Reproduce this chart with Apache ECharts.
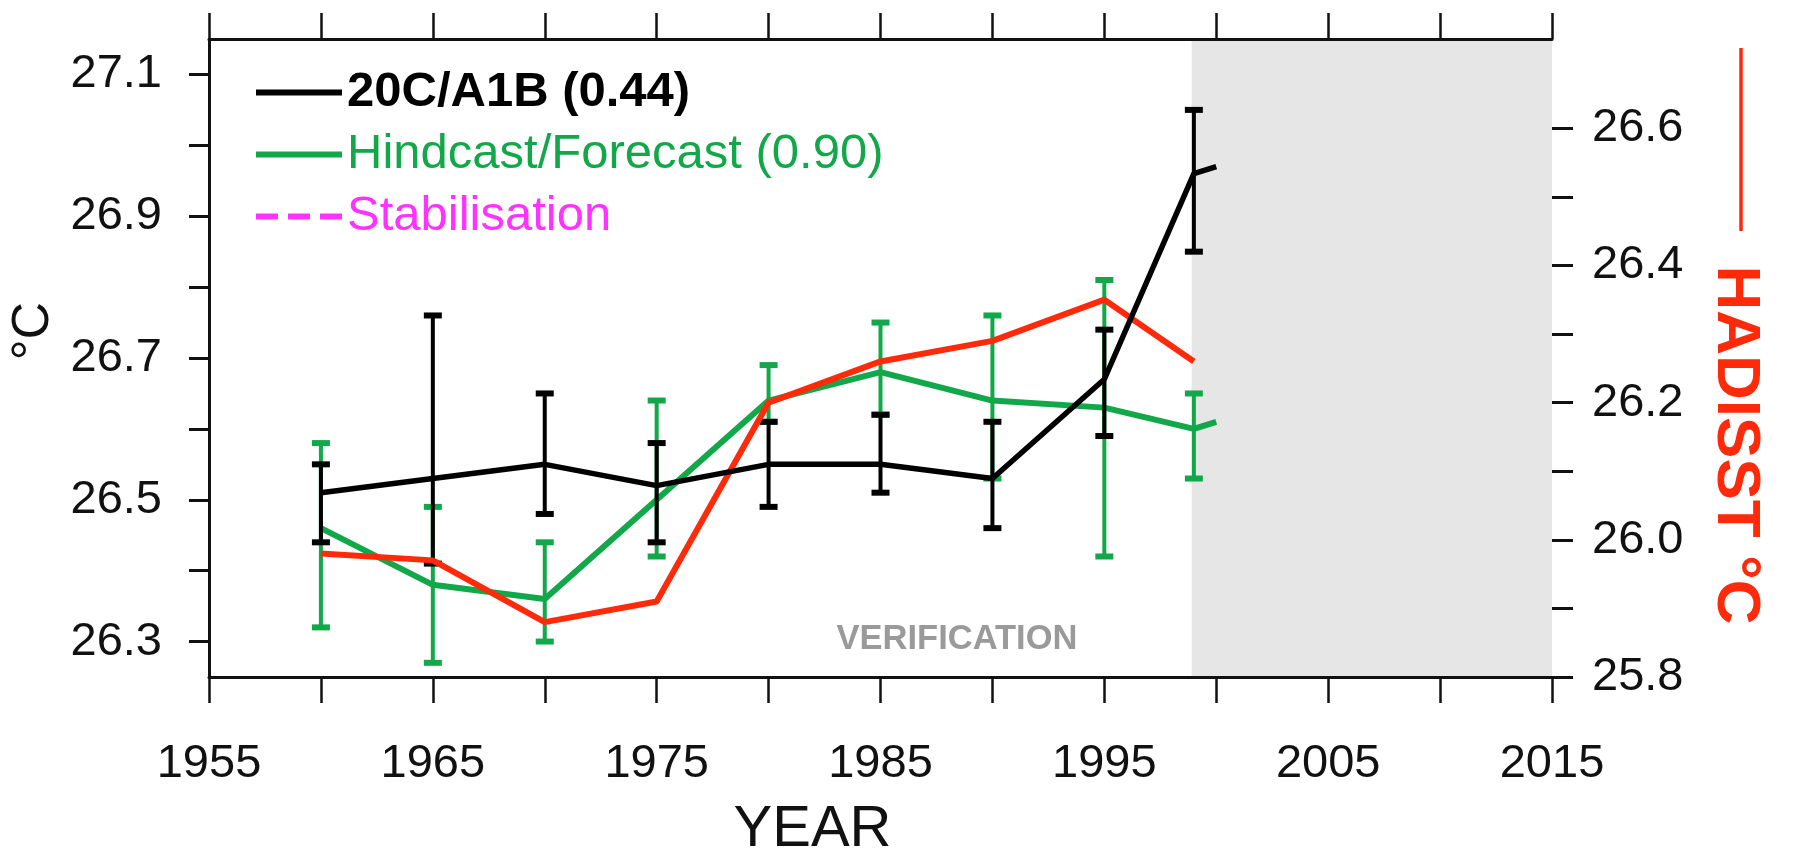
<!DOCTYPE html>
<html>
<head>
<meta charset="utf-8">
<script src="https://cdn.jsdelivr.net/npm/echarts@6/dist/echarts.min.js"></script>
<style>
html, body { margin: 0; background: #fff; }
#chart { width: 1808px; height: 856px; }
</style>
</head>
<body>
<div id="chart"></div>
<script>
// hindcast start years (1999 is the last one, lines run on to 2000)
const years = [1960, 1965, 1970, 1975, 1980, 1985, 1990, 1995, 1999, 2000]

// 20C/A1B ensemble, left axis (degC)
const a1b = [26.51, 26.53, 26.55, 26.52, 26.55, 26.55, 26.53, 26.67, 26.96, 26.97]
const a1bHigh = [26.55, 26.76, 26.65, 26.58, 26.61, 26.62, 26.61, 26.74, 27.05]
const a1bLow = [26.44, 26.41, 26.48, 26.44, 26.49, 26.51, 26.46, 26.59, 26.85]

// hindcast / forecast, left axis (degC)
const hindcast = [26.46, 26.38, 26.36, 26.50, 26.64, 26.68, 26.64, 26.63, 26.60, 26.61]
const hindHigh = [26.58, 26.49, 26.44, 26.64, 26.69, 26.75, 26.76, 26.81, 26.65]
const hindLow = [26.32, 26.27, 26.30, 26.42, 26.61, 26.62, 26.53, 26.42, 26.53]

// HadISST observations, right axis (degC)
const hadisst = [25.98, 25.97, 25.88, 25.91, 26.20, 26.26, 26.29, 26.35, 26.26]

// stabilisation run: in the legend only, nothing plotted
const stabilisation = []

const xLabels = [1955, 1965, 1975, 1985, 1995, 2005, 2015]
const leftTicks = [26.3, 26.4, 26.5, 26.6, 26.7, 26.8, 26.9, 27.0, 27.1]
const leftLabels = [26.3, 26.5, 26.7, 26.9, 27.1]
const rightTicks = [25.8, 25.9, 26.0, 26.1, 26.2, 26.3, 26.4, 26.5, 26.6]
const rightLabels = [25.8, 26.0, 26.2, 26.4, 26.6]

// shaded forecast period
const shade = [[1998.9, 2015]]

const names = ['20C/A1B (0.44)', 'Hindcast/Forecast (0.90)', 'Stabilisation', 'HADISST']
const BLACK = '#000000'
const GREEN = '#12a84a'
const RED = '#ff2a0a'
const MAGENTA = '#ff33ff'

const tickFont = "'Liberation Sans Narrow', 'Liberation Sans', sans-serif"
const plainFont = "'Liberation Sans', Arial, sans-serif"

function pairs(xs, ys) {
  return ys.map((v, i) => [xs[i], v])
}

function bars(xs, lo, hi) {
  return lo.map((v, i) => [xs[i], v, hi[i]])
}

function errorBars(color) {
  return function (params, api) {
    const x = api.value(0)
    const lo = api.coord([x, api.value(1)])
    const hi = api.coord([x, api.value(2)])
    const half = 9
    return {
      type: 'group',
      children: [
        { type: 'line', shape: { x1: lo[0], y1: lo[1], x2: hi[0], y2: hi[1] }, style: { stroke: color, lineWidth: 4 } },
        { type: 'line', shape: { x1: lo[0] - half, y1: lo[1], x2: lo[0] + half, y2: lo[1] }, style: { stroke: color, lineWidth: 6 } },
        { type: 'line', shape: { x1: hi[0] - half, y1: hi[1], x2: hi[0] + half, y2: hi[1] }, style: { stroke: color, lineWidth: 6 } }
      ]
    }
  }
}

const chart = echarts.init(document.getElementById('chart'))

const axisLine = { show: true, lineStyle: { color: '#111', width: 3 } }
const tickLabel = { fontFamily: tickFont, fontSize: 47, color: '#111' }
const dashIcon = 'path://M0,0h22v6h-22z M32,0h22v6h-22z M64,0h22v6h-22z'

const option = {
  animation: false,
  backgroundColor: '#fff',
  grid: { left: 209, right: 256, top: 39, bottom: 179, outerBoundsMode: 'none' },
  legend: {
    orient: 'vertical',
    left: 256,
    top: 68,
    padding: 0,
    itemWidth: 86,
    itemHeight: 6,
    itemGap: 13,
    selectedMode: false,
    textStyle: { fontFamily: plainFont, fontSize: 49, lineHeight: 49 },
    data: [
      { name: names[0], icon: 'rect', textStyle: { color: BLACK, fontWeight: 'bold' } },
      { name: names[1], icon: 'rect', textStyle: { color: GREEN } },
      { name: names[2], icon: dashIcon, textStyle: { color: MAGENTA } }
    ]
  },
  xAxis: [
    {
      type: 'value',
      min: 1955,
      max: 2015,
      interval: 5,
      z: 5,
      name: 'YEAR',
      nameLocation: 'middle',
      nameGap: 124,
      nameTextStyle: { fontFamily: tickFont, fontSize: 58, color: '#111', padding: [0, 136, 0, 0] },
      axisLine: axisLine,
      axisTick: { show: true, inside: false, length: 26, lineStyle: { color: '#111', width: 2.5 } },
      axisLabel: Object.assign({ customValues: xLabels, margin: 64, formatter: v => String(v) }, tickLabel),
      splitLine: { show: false }
    },
    {
      type: 'value',
      position: 'top',
      min: 1955,
      max: 2015,
      interval: 5,
      z: 5,
      axisLine: axisLine,
      axisTick: { show: true, inside: false, length: 26, lineStyle: { color: '#111', width: 2.5 } },
      axisLabel: { show: false },
      splitLine: { show: false }
    }
  ],
  yAxis: [
    {
      type: 'value',
      min: 26.25,
      max: 27.15,
      z: 5,
      name: '°C',
      nameLocation: 'middle',
      nameRotate: 90,
      nameGap: 121,
      nameTextStyle: { fontFamily: tickFont, fontSize: 52, color: '#111', padding: [0, 0, 0, 54] },
      axisLine: axisLine,
      axisTick: { show: true, inside: false, length: 20, customValues: leftTicks, lineStyle: { color: '#111', width: 3 } },
      axisLabel: Object.assign({ customValues: leftLabels, margin: 47, formatter: v => v.toFixed(1) }, tickLabel),
      splitLine: { show: false }
    },
    {
      type: 'value',
      position: 'right',
      min: 25.8,
      max: 26.73,
      z: 5,
      axisLine: { show: false },
      axisTick: { show: true, inside: false, length: 21, customValues: rightTicks, lineStyle: { color: '#111', width: 3 } },
      axisLabel: Object.assign({ customValues: rightLabels, margin: 40, formatter: v => v.toFixed(1) }, tickLabel),
      splitLine: { show: false }
    }
  ],
  graphic: [
    {
      type: 'line',
      shape: { x1: 1741, y1: 48, x2: 1741, y2: 231 },
      style: { stroke: RED, lineWidth: 3.5 }
    },
    {
      type: 'text',
      x: 1735,
      y: 445,
      rotation: -Math.PI / 2,
      style: {
        text: 'HADISST °C',
        fill: RED,
        font: "bold 62px 'Liberation Sans', Arial, sans-serif",
        align: 'center',
        verticalAlign: 'middle'
      }
    },
    {
      type: 'text',
      x: 957,
      y: 639,
      style: {
        text: 'VERIFICATION',
        fill: '#9a9a9a',
        font: "bold 34.5px 'Liberation Sans', Arial, sans-serif",
        align: 'center',
        verticalAlign: 'middle'
      }
    }
  ],
  series: [
    {
      type: 'custom',
      name: 'shade',
      z: 1,
      silent: true,
      data: shade,
      encode: { x: [0, 1] },
      renderItem: function (params, api) {
        const a = api.coord([api.value(0), 26.5])
        const b = api.coord([api.value(1), 26.5])
        return {
          type: 'rect',
          shape: { x: a[0], y: params.coordSys.y, width: b[0] - a[0], height: params.coordSys.height },
          style: { fill: '#e6e6e6' }
        }
      }
    },
    {
      type: 'custom',
      name: 'hind-err',
      z: 2,
      data: bars(years, hindLow, hindHigh),
      encode: { x: 0, y: [1, 2] },
      renderItem: errorBars(GREEN)
    },
    {
      type: 'line',
      name: names[1],
      z: 3,
      data: pairs(years, hindcast),
      symbol: 'none',
      color: GREEN,
      lineStyle: { color: GREEN, width: 6 }
    },
    {
      type: 'custom',
      name: 'a1b-err',
      z: 4,
      data: bars(years, a1bLow, a1bHigh),
      encode: { x: 0, y: [1, 2] },
      renderItem: errorBars(BLACK)
    },
    {
      type: 'line',
      name: names[3],
      z: 4,
      yAxisIndex: 1,
      data: pairs(years, hadisst),
      symbol: 'none',
      color: RED,
      lineStyle: { color: RED, width: 6 }
    },
    {
      type: 'line',
      name: names[0],
      z: 5,
      data: pairs(years, a1b),
      symbol: 'none',
      color: BLACK,
      lineStyle: { color: BLACK, width: 5.5 }
    },
    {
      type: 'line',
      name: names[2],
      data: stabilisation,
      symbol: 'none',
      color: MAGENTA,
      lineStyle: { color: MAGENTA, width: 4, type: [20, 10] }
    }
  ]
}

chart.setOption(option)
</script>
</body>
</html>
